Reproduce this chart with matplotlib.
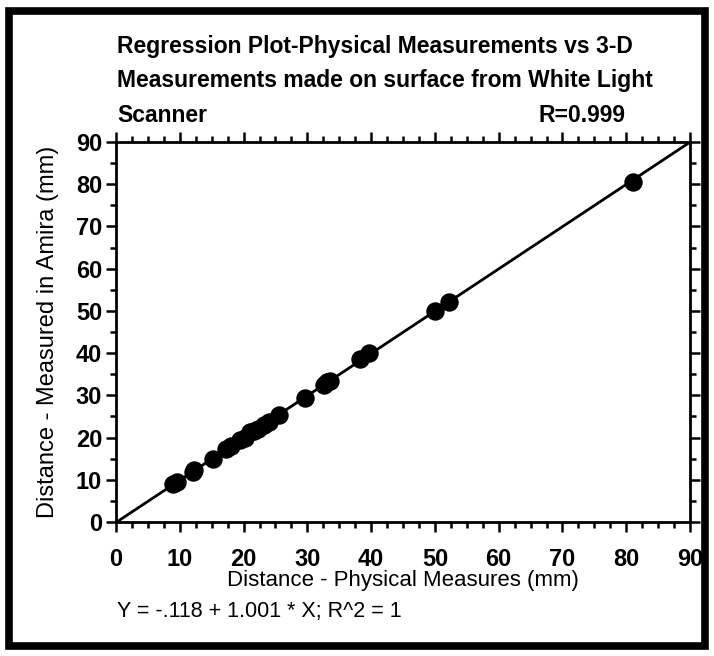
import matplotlib.pyplot as plt
import numpy as np
from matplotlib.patches import Rectangle
from matplotlib.ticker import MultipleLocator

# physical vs scanned distances (mm)
fisica = [9.0, 9.5, 12.0, 12.3, 15.2, 17.2, 18.0, 19.5, 20.2, 21.0, 21.6, 22.3,
          23.2, 24.0, 25.6, 29.6, 32.6, 33.1, 33.6, 38.3, 39.7, 50.0, 52.2, 81.0]
amira = [9.0, 9.4, 11.8, 12.4, 14.8, 17.3, 17.9, 19.4, 20.0, 21.2, 21.5, 22.1,
         23.0, 23.8, 25.4, 29.3, 32.4, 33.2, 33.5, 38.6, 40.0, 50.0, 52.0, 80.6]

# regression coefficients
a = -0.118
b = 1.001

plt.rcParams['font.family'] = ['Liberation Sans', 'DejaVu Sans']

fig = plt.figure(figsize=(7.14, 6.56), dpi=100)
ax = fig.add_axes([0.1625, 0.2043, 0.8039, 0.5792])

xs = np.array([0, 90])
ax.plot(xs, a + b * xs, color='black', linewidth=2.0, zorder=2)
ax.scatter(fisica, amira, s=150, color='black', zorder=3)

ax.set_xlim(0, 90)
ax.set_ylim(0, 90)
ax.xaxis.set_major_locator(MultipleLocator(10))
ax.xaxis.set_minor_locator(MultipleLocator(2.5))
ax.yaxis.set_major_locator(MultipleLocator(10))
ax.yaxis.set_minor_locator(MultipleLocator(5))
ax.tick_params(which='both', direction='out', top=True, right=True,
               width=1.8, labelsize=17, colors='black')
ax.tick_params(which='major', length=7)
ax.tick_params(which='minor', length=4)
ax.tick_params(axis='x', which='major', pad=12)
ax.tick_params(axis='y', which='major', pad=3)
for lab in ax.get_xticklabels() + ax.get_yticklabels():
    lab.set_fontweight('bold')
for s in ax.spines.values():
    s.set_linewidth(2.0)

ax.set_xlabel('Distance - Physical Measures (mm)', fontsize=16, labelpad=-1)
ax.set_ylabel('Distance - Measured in Amira (mm)', fontsize=17, labelpad=12)

title_kw = dict(fontsize=16.5, fontweight='bold', va='center')
fig.text(117 / 714, 1 - 46 / 656, 'Regression Plot-Physical Measurements vs 3-D',
         **title_kw)
fig.text(117 / 714, 1 - 81 / 656, 'Measurements made on surface from White Light',
         **title_kw)
fig.text(117 / 714, 1 - 115 / 656, 'Scanner', **title_kw)
fig.text(625 / 714, 1 - 115 / 656, 'R=0.999', ha='right', **title_kw)
fig.text(117 / 714, 1 - 612 / 656, 'Y = -.118 + 1.001 * X; R^2 = 1',
         fontsize=15.5, va='center')

# heavy outer frame
fig.patches.append(Rectangle((9 / 714, 10 / 656), 696 / 714, 635 / 656,
                             transform=fig.transFigure, fill=False,
                             edgecolor='black', linewidth=5.5))

fig.savefig('out.png', dpi=100)
